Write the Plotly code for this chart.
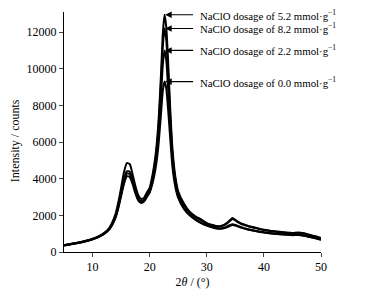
import plotly.graph_objects as go

two_theta = [5, 6, 7, 8, 9, 10, 11, 12, 13, 14, 14.5, 15, 15.5, 16, 16.5, 17, 17.5, 18, 18.5, 19, 19.5,
             20, 20.5, 21, 21.5, 22, 22.3, 22.6, 22.9, 23.2, 23.6, 24, 24.5, 25, 26, 27, 28, 29, 30, 31, 32,
             33, 33.5, 34, 34.5, 35, 35.5, 36, 37, 38, 39, 40, 42, 44, 45, 46, 47, 48, 49, 50]

i_52 = [380, 430, 490, 550, 630, 720, 850, 1030, 1350, 2050, 2700, 3500, 4350, 4850, 4800, 4250, 3600, 3100, 2900, 2950, 3250,
        3500, 4200, 5200, 6900, 9800, 11900, 12950, 12300, 10600, 7800, 5600, 4100, 3300, 2650, 2200, 1950, 1780, 1580, 1470, 1400,
        1480, 1580, 1720, 1850, 1760, 1640, 1560, 1450, 1360, 1290, 1220, 1130, 1060, 1040, 1060, 1020, 940, 860, 760]

i_82 = [360, 420, 475, 535, 610, 700, 820, 990, 1280, 1900, 2500, 3200, 3950, 4400, 4380, 3950, 3400, 2950, 2780, 2830, 3120,
        3400, 4050, 5000, 6600, 9300, 11200, 12200, 11600, 10000, 7400, 5300, 3950, 3200, 2550, 2150, 1900, 1740, 1550, 1450, 1380,
        1450, 1540, 1680, 1800, 1720, 1610, 1530, 1430, 1340, 1270, 1200, 1110, 1040, 1020, 1040, 1000, 920, 840, 740]

i_22 = [370, 420, 480, 540, 615, 705, 825, 1000, 1290, 1900, 2450, 3150, 3850, 4280, 4250, 3850, 3300, 2880, 2720, 2780, 3050,
        3300, 3900, 4750, 6200, 8600, 10200, 11000, 10500, 9100, 6900, 5000, 3750, 3050, 2400, 2030, 1780, 1600, 1460, 1360, 1290,
        1320, 1380, 1460, 1520, 1480, 1410, 1350, 1260, 1190, 1130, 1080, 1000, 950, 930, 940, 900, 830, 760, 680]

i_00 = [350, 400, 460, 520, 595, 690, 810, 980, 1260, 1850, 2380, 3050, 3720, 4130, 4100, 3720, 3200, 2820, 2680, 2750, 3000,
        3250, 3750, 4500, 5700, 7600, 8800, 9300, 8950, 7900, 6200, 4600, 3550, 2950, 2350, 2000, 1760, 1580, 1440, 1340, 1270,
        1300, 1350, 1420, 1480, 1450, 1390, 1330, 1240, 1170, 1110, 1060, 990, 940, 920, 930, 890, 820, 750, 670]

series = [("5.2", i_52), ("8.2", i_82), ("2.2", i_22), ("0.0", i_00)]
peak_x = 22.7

FONT = "Liberation Serif"

fig = go.Figure()
for name, ys in series:
    fig.add_trace(go.Scatter(x=two_theta, y=ys, mode="lines", name=name,
                             line=dict(color="black", width=2, shape="spline", smoothing=0.6),
                             showlegend=False))

for name, ys in series:
    fig.add_annotation(x=peak_x, y=max(ys), xref="x", yref="y",
                       text=f"NaClO dosage of {name} mmol·g<sup>−1</sup>",
                       showarrow=True, ax=28, ay=0, xanchor="left", borderpad=6,
                       arrowhead=2, arrowsize=1.1, arrowwidth=1.2, arrowcolor="black",
                       font=dict(family=FONT, size=10.8, color="black"))

# y-axis title placed as a rotated annotation (slightly below the plot centre, as in the reference)
fig.add_annotation(x=-0.19, y=0.4625, xref="paper", yref="paper", text="Intensity / counts",
                   textangle=-90, showarrow=False, xanchor="center", yanchor="middle",
                   font=dict(family=FONT, size=12, color="black"))

# page body has an 8px margin, so the figure is drawn 8px smaller and offset
fig.update_layout(
    width=357, height=288,
    margin=dict(l=56, r=44, t=4, b=44, autoexpand=False),
    paper_bgcolor="white", plot_bgcolor="white",
    font=dict(family=FONT, size=12, color="black"),
)
fig.update_xaxes(range=[5, 50], tickvals=[10, 20, 30, 40, 50], ticks="outside", ticklen=4,
                 showline=True, linecolor="black", linewidth=1, showgrid=False, zeroline=False,
                 automargin=False,
                 title=dict(text="2<i>θ</i> / (°)", standoff=4, font=dict(size=12)),
                 tickfont=dict(size=12))
fig.update_yaxes(range=[0, 13100], tickvals=[0, 2000, 4000, 6000, 8000, 10000, 12000], tickformat="d",
                 ticks="outside", ticklen=4,
                 showline=True, linecolor="black", linewidth=1, showgrid=False, zeroline=False,
                 automargin=False,
                 tickfont=dict(size=12))

fig.write_html("out.html")
